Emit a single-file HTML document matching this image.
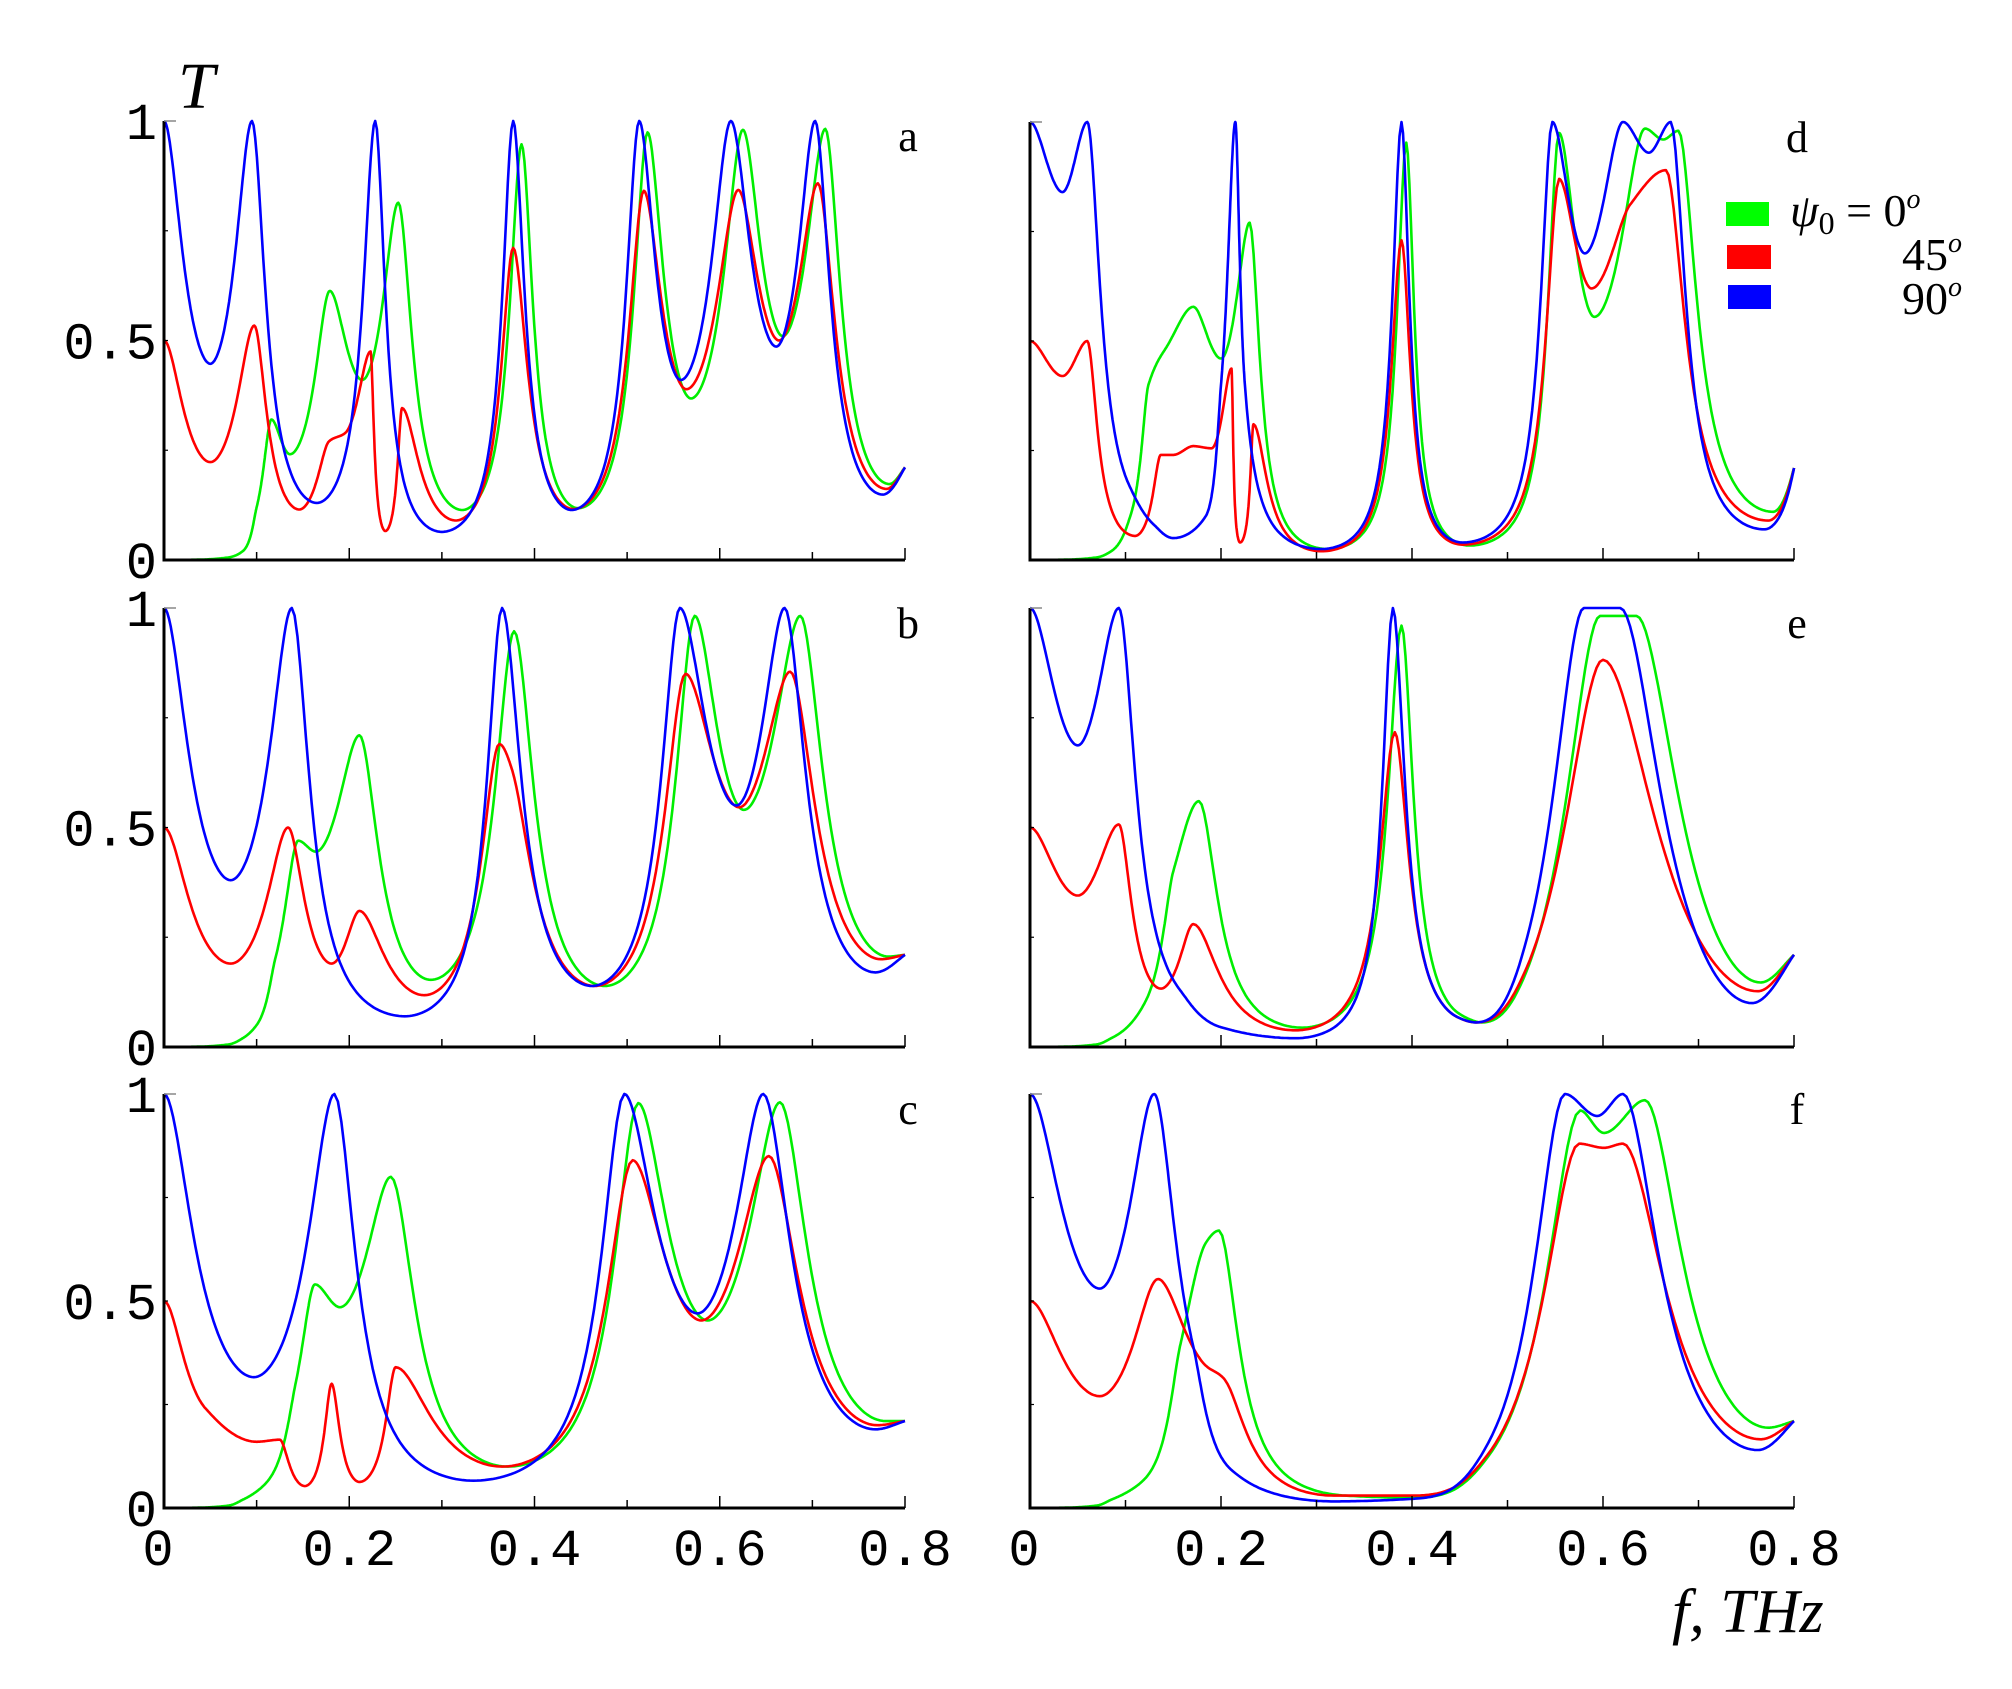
<!DOCTYPE html>
<html><head><meta charset="utf-8">
<style>
html,body{margin:0;padding:0;background:#fff;}
svg{display:block;}
.m{font-family:"Liberation Mono","DejaVu Sans Mono",monospace;font-size:52px;fill:#000;}
.s{font-family:"Liberation Serif","DejaVu Serif",serif;fill:#000;}
</style></head>
<body>
<svg id="c" width="2012" height="1689" viewBox="0 0 2012 1689" xmlns="http://www.w3.org/2000/svg">
<text class="s" x="178" y="108" font-size="66" font-style="italic">T</text>
<text class="s" x="1672" y="1632" font-size="62" font-style="italic">f, THz</text>
<rect x="1726" y="202" width="43" height="24" fill="#00ff00"/>
<rect x="1727" y="245" width="44" height="24" fill="#ff0000"/>
<rect x="1728" y="285" width="43" height="24" fill="#0000ff"/>
<text class="s" x="1790" y="226" font-size="46"><tspan font-style="italic">ψ</tspan><tspan font-size="32" dy="8">0</tspan><tspan dy="-8"> = 0</tspan><tspan font-size="28" font-style="italic" dy="-18">o</tspan></text>
<text class="s" x="1902" y="270" font-size="46">45<tspan font-size="28" font-style="italic" dy="-18">o</tspan></text>
<text class="s" x="1902" y="314" font-size="46">90<tspan font-size="28" font-style="italic" dy="-18">o</tspan></text>
</svg>
<script>
var NS="http://www.w3.org/2000/svg",svg=document.getElementById("c");
function el(t,a,txt){var e=document.createElementNS(NS,t);for(var k in a)e.setAttribute(k,a[k]);if(txt!=null)e.textContent=txt;svg.appendChild(e);return e;}
function mono(pts,EPS){var n=pts.length,xs=pts.map(p=>p[0]),ys=pts.map(p=>1/(p[1]+EPS)),d=[],m=[];
for(var i=0;i<n-1;i++)d.push((ys[i+1]-ys[i])/(xs[i+1]-xs[i]));
m[0]=0;m[n-1]=d[n-2];
for(i=1;i<n-1;i++){if(d[i-1]*d[i]<=0)m[i]=0;else m[i]=2/(1/d[i-1]+1/d[i]);}
var out=[];for(i=0;i<n-1;i++){var h=xs[i+1]-xs[i];for(var k=0;k<40;k++){var t=k/40,h00=2*t*t*t-3*t*t+1,h10=t*t*t-2*t*t+t,h01=-2*t*t*t+3*t*t,h11=t*t*t-t*t;
var u=h00*ys[i]+h10*h*m[i]+h01*ys[i+1]+h11*h*m[i+1];
out.push([xs[i]+t*h,1/u-EPS]);}}
out.push(pts[n-1]);return out;}
function curve(pts,be,bx){var a=mono(pts,0.03);if(!be)return a;var b=mono(pts,be);
return a.map(function(q,i){var x=q[0],w=Math.min(1,Math.max(0,(x-bx)/0.08));w=w*w*(3-2*w);return [x,q[1]*(1-w)+b[i][1]*w];});}
var G0=[[0,0],[0.04,0.001],[0.07,0.006],[0.085,0.02]];
var P=[
{x0:164,x1:905,y0:560,y1:121,l:"a",lab:true,
b:[[0,1],[0.05,0.447],[0.095,1],[0.165,0.13],[0.228,1],[0.30,0.064],[0.377,1],[0.44,0.114],[0.513,1],[0.558,0.41],[0.612,1],[0.661,0.486],[0.703,1],[0.776,0.149],[0.8,0.211]],
r:[[0,0.5],[0.05,0.223],[0.0975,0.534],[0.146,0.115],[0.178,0.27],[0.196,0.29],[0.223,0.475],[0.239,0.066],[0.257,0.346],[0.315,0.09],[0.377,0.711],[0.442,0.116],[0.518,0.841],[0.564,0.389],[0.62,0.843],[0.664,0.5],[0.706,0.858],[0.78,0.162],[0.8,0.211]],
g:G0.concat([[0.1,0.12],[0.116,0.32],[0.136,0.241],[0.179,0.613],[0.214,0.41],[0.253,0.814],[0.322,0.114],[0.386,0.947],[0.447,0.118],[0.522,0.974],[0.569,0.368],[0.625,0.98],[0.668,0.51],[0.714,0.982],[0.783,0.173],[0.8,0.211]])},
{x0:164,x1:905,y0:1047,y1:608,l:"b",lab:true,
b:[[0,1],[0.072,0.38],[0.138,1],[0.26,0.07],[0.365,1],[0.462,0.139],[0.557,1],[0.618,0.55],[0.67,1],[0.768,0.17],[0.8,0.21]],
r:[[0,0.5],[0.072,0.19],[0.134,0.5],[0.181,0.19],[0.211,0.31],[0.281,0.118],[0.362,0.69],[0.376,0.63],[0.465,0.139],[0.563,0.85],[0.621,0.546],[0.676,0.855],[0.774,0.2],[0.8,0.21]],
g:G0.concat([[0.1,0.05],[0.12,0.2],[0.145,0.47],[0.164,0.445],[0.211,0.71],[0.288,0.153],[0.378,0.947],[0.476,0.139],[0.573,0.982],[0.626,0.54],[0.687,0.982],[0.782,0.206],[0.8,0.21]])},
{x0:164,x1:905,y0:1508,y1:1094,l:"c",lab:true,
b:[[0,1],[0.097,0.316],[0.184,1],[0.334,0.066],[0.497,1],[0.576,0.47],[0.647,1],[0.768,0.19],[0.8,0.21]],
r:[[0,0.5],[0.045,0.24],[0.1,0.16],[0.125,0.165],[0.152,0.053],[0.181,0.3],[0.211,0.063],[0.25,0.34],[0.365,0.1],[0.506,0.84],[0.58,0.453],[0.653,0.85],[0.77,0.2],[0.8,0.21]],
g:G0.concat([[0.11,0.06],[0.142,0.3],[0.163,0.54],[0.19,0.485],[0.245,0.8],[0.371,0.1],[0.512,0.978],[0.587,0.453],[0.665,0.98],[0.779,0.21],[0.8,0.21]])},
{x0:1030,x1:1794,y0:560,y1:122,l:"d",lab:false,
b:[[0,1],[0.034,0.84],[0.06,1],[0.104,0.17],[0.13,0.08],[0.15,0.05],[0.184,0.1],[0.2,0.4],[0.215,1],[0.225,0.4],[0.305,0.025],[0.389,1],[0.453,0.04],[0.547,1],[0.581,0.7],[0.621,1],[0.648,0.93],[0.671,1],[0.769,0.07],[0.8,0.21]],
r:[[0,0.5],[0.034,0.42],[0.06,0.5],[0.11,0.055],[0.137,0.24],[0.15,0.24],[0.171,0.26],[0.19,0.255],[0.211,0.437],[0.22,0.04],[0.234,0.31],[0.305,0.02],[0.389,0.73],[0.453,0.035],[0.554,0.87],[0.588,0.62],[0.628,0.81],[0.666,0.89],[0.773,0.09],[0.8,0.21]],
g:G0.concat([[0.105,0.1],[0.124,0.4],[0.144,0.49],[0.171,0.578],[0.2,0.46],[0.23,0.77],[0.312,0.025],[0.394,0.953],[0.46,0.033],[0.554,0.975],[0.591,0.555],[0.644,0.985],[0.663,0.96],[0.679,0.98],[0.778,0.11],[0.8,0.21]])},
{x0:1030,x1:1794,y0:1047,y1:608,l:"e",lab:false,be:0.35,bx:0.44,
b:[[0,1],[0.05,0.687],[0.093,1],[0.157,0.13],[0.2,0.045],[0.278,0.02],[0.38,1],[0.467,0.056],[0.58,1],[0.618,1],[0.756,0.1],[0.8,0.21]],
r:[[0,0.5],[0.05,0.345],[0.093,0.507],[0.137,0.133],[0.171,0.28],[0.278,0.038],[0.382,0.717],[0.467,0.056],[0.6,0.882],[0.762,0.127],[0.8,0.21]],
g:G0.concat([[0.12,0.1],[0.15,0.4],[0.177,0.56],[0.285,0.044],[0.389,0.96],[0.473,0.056],[0.597,0.982],[0.635,0.982],[0.765,0.147],[0.8,0.21]])},
{x0:1030,x1:1794,y0:1508,y1:1094,l:"f",lab:false,be:0.15,bx:0.40,
b:[[0,1],[0.073,0.53],[0.13,1],[0.171,0.39],[0.21,0.094],[0.318,0.016],[0.4,0.022],[0.56,1],[0.594,0.947],[0.621,1],[0.762,0.14],[0.8,0.21]],
r:[[0,0.5],[0.073,0.27],[0.134,0.553],[0.184,0.344],[0.204,0.31],[0.318,0.03],[0.4,0.03],[0.575,0.88],[0.601,0.87],[0.621,0.88],[0.765,0.166],[0.8,0.21]],
g:G0.concat([[0.12,0.07],[0.157,0.39],[0.184,0.64],[0.198,0.67],[0.33,0.03],[0.4,0.025],[0.576,0.96],[0.601,0.906],[0.644,0.985],[0.773,0.194],[0.8,0.21]])}
];
P.forEach(function(p){
 var X=f=>p.x0+(p.x1-p.x0)*f/0.8,Y=t=>p.y0-(p.y0-p.y1)*t;
 [["g","#00ee00"],["r","#ff0000"],["b","#0000ff"]].forEach(function(c){
  var pts=curve(p[c[0]],p.be,p.bx).map(q=>X(q[0]).toFixed(1)+","+Y(Math.max(0,Math.min(1,q[1]))).toFixed(1)).join(" ");
  el("polyline",{points:pts,fill:"none",stroke:c[1],"stroke-width":2.6,"stroke-linejoin":"round"});
 });
 el("line",{x1:p.x0,y1:p.y1,x2:p.x0,y2:p.y0+1.5,stroke:"#000","stroke-width":3});
 el("line",{x1:p.x0-1.5,y1:p.y0,x2:p.x1,y2:p.y0,stroke:"#000","stroke-width":3});
 el("line",{x1:p.x0,y1:p.y1,x2:p.x0+12,y2:p.y1,stroke:"#888","stroke-width":1.5});
 for(var i=1;i<=8;i++)el("line",{x1:X(i/10),y1:p.y0,x2:X(i/10),y2:p.y0-(i%2?8:12),stroke:"#000","stroke-width":1.5});
 for(var j=1;j<4;j++)el("line",{x1:p.x0,y1:Y(j/4),x2:p.x0+4,y2:Y(j/4),stroke:"#000","stroke-width":1.2});
 el("text",{"class":"s",x:p.x1+3,y:p.y1+30,"font-size":"44","text-anchor":"middle"},p.l);
 if(p.lab){
  el("text",{"class":"m",x:157,y:p.y1+18,"text-anchor":"end"},"1");
  el("text",{"class":"m",x:157,y:Y(0.5)+18,"text-anchor":"end"},"0.5");
  el("text",{"class":"m",x:157,y:p.y0+18,"text-anchor":"end"},"0");
 }
});
[[164,905],[1030,1794]].forEach(function(a){
 ["0","0.2","0.4","0.6","0.8"].forEach(function(s,i){
  var x=a[0]+(a[1]-a[0])*i/4; if(i==0)x-=6;
  el("text",{"class":"m",x:x,y:1565,"text-anchor":"middle"},s);
 });
});
</script>
</body></html>
